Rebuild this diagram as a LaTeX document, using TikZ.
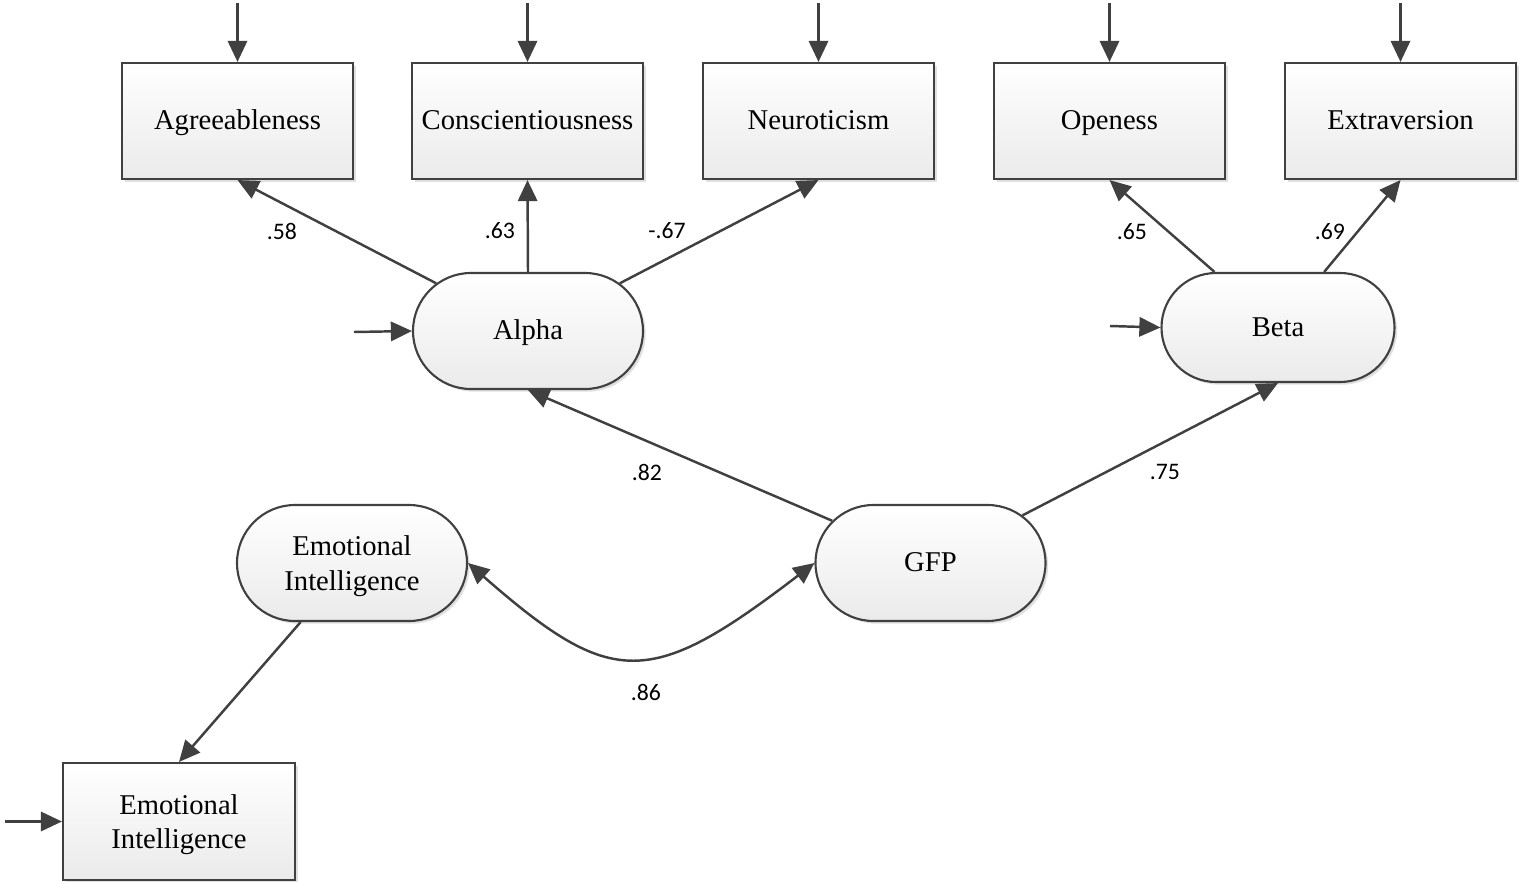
\documentclass[tikz,border=0pt]{standalone}
\usepackage{fontspec}
\setmainfont{Liberation Serif}
\newfontfamily\labfont{Carlito}
\usetikzlibrary{shapes.misc,arrows.meta,shadows}
\definecolor{ln}{HTML}{404040}
\tikzset{
  base/.style={draw=ln, line width=1.2pt, top color=white, bottom color=black!8,
    drop shadow={shadow xshift=1.5pt, shadow yshift=-1.5pt, fill=black, opacity=0.12},
    font=\fontsize{16.3}{19.5}\selectfont, align=center, inner sep=0pt},
  oneline/.style={text height=10.8pt, text depth=0.6pt},
  obsbox/.style={base, rectangle, minimum width=231*0.02cm, minimum height=116*0.02cm},
  latent/.style={base, rounded rectangle, minimum width=230*0.02cm, minimum height=116*0.02cm},
  conn/.style={draw=ln, line width=1.4pt, -{Triangle[length=12pt,width=11pt]}},
  biconn/.style={draw=ln, line width=1.4pt, {Triangle[length=12pt,width=11pt]}-{Triangle[length=12pt,width=11pt]}},
  lab/.style={font=\labfont\fontsize{13.5}{16}\selectfont, inner sep=0pt}
}
\begin{document}
\begin{tikzpicture}[x=0.02cm,y=-0.02cm]
\useasboundingbox (0,0) rectangle (1519,882);
% observed boxes
\node[obsbox, oneline] (agr) at (237.5,121) {Agreeableness};
\node[obsbox, oneline] (con) at (527.5,121) {Conscientiousness};
\node[obsbox, oneline] (neu) at (818.5,121) {Neuroticism};
\node[obsbox, oneline] (ope) at (1109.5,121) {Openess};
\node[obsbox, oneline] (ext) at (1400.5,121) {Extraversion};
\node[obsbox, minimum width=232*0.02cm, minimum height=117*0.02cm] (eib) at (179,821.5) {Emotional\\\smash{Intelligence}};
% latent
\node[latent, oneline] (alpha) at (528,331) {Alpha};
\node[latent, oneline, minimum width=233*0.02cm, minimum height=109*0.02cm] (beta) at (1278,327.5) {Beta};
\node[latent] (eil) at (352,563) {Emotional\\\smash{Intelligence}};
\node[latent, oneline] (gfp) at (930.5,563) {GFP};
% error terms
\coordinate (e1) at (237.5,3);
\coordinate (e2) at (527.5,3);
\coordinate (e3) at (818.5,3);
\coordinate (e4) at (1109.5,3);
\coordinate (e5) at (1400.5,3);
\coordinate (ea) at (354,332);
\coordinate (eb) at (1110,326);
\coordinate (ee) at (5,821.5);
\draw[conn] (e1) -- (agr.north);
\draw[conn] (e2) -- (con.north);
\draw[conn] (e3) -- (neu.north);
\draw[conn] (e4) -- (ope.north);
\draw[conn] (e5) -- (ext.north);
\draw[conn] (ea) -- (alpha.west);
\draw[conn] (eb) -- (beta.west);
\draw[conn] (ee) -- (eib.west);
% loadings
\draw[conn] (alpha) -- (agr.south);
\draw[conn] (alpha.north) -- (con.south);
\draw[conn] (alpha) -- (neu.south);
\draw[conn] (beta) -- (ope.south);
\draw[conn] (beta) -- (ext.south);
\draw[conn] (gfp) -- (alpha.south);
\draw[conn] (gfp) -- (beta.south);
\draw[conn] (eil) -- (eib.north);
\draw[biconn] (eil.east) .. controls (612,689) and (650,689) .. (gfp.west);
% labels
\node[lab] (l1) at (282,231) {.58};
\node[lab] (l2) at (500,231) {.63};
\node[lab] (l3) at (667,231) {-.67};
\node[lab] (l4) at (1132,232) {.65};
\node[lab] (l5) at (1330,232) {.69};
\node[lab] (l6) at (647,472) {.82};
\node[lab] (l7) at (1165,472) {.75};
\node[lab] (l8) at (646,692) {.86};
\end{tikzpicture}
\end{document}
